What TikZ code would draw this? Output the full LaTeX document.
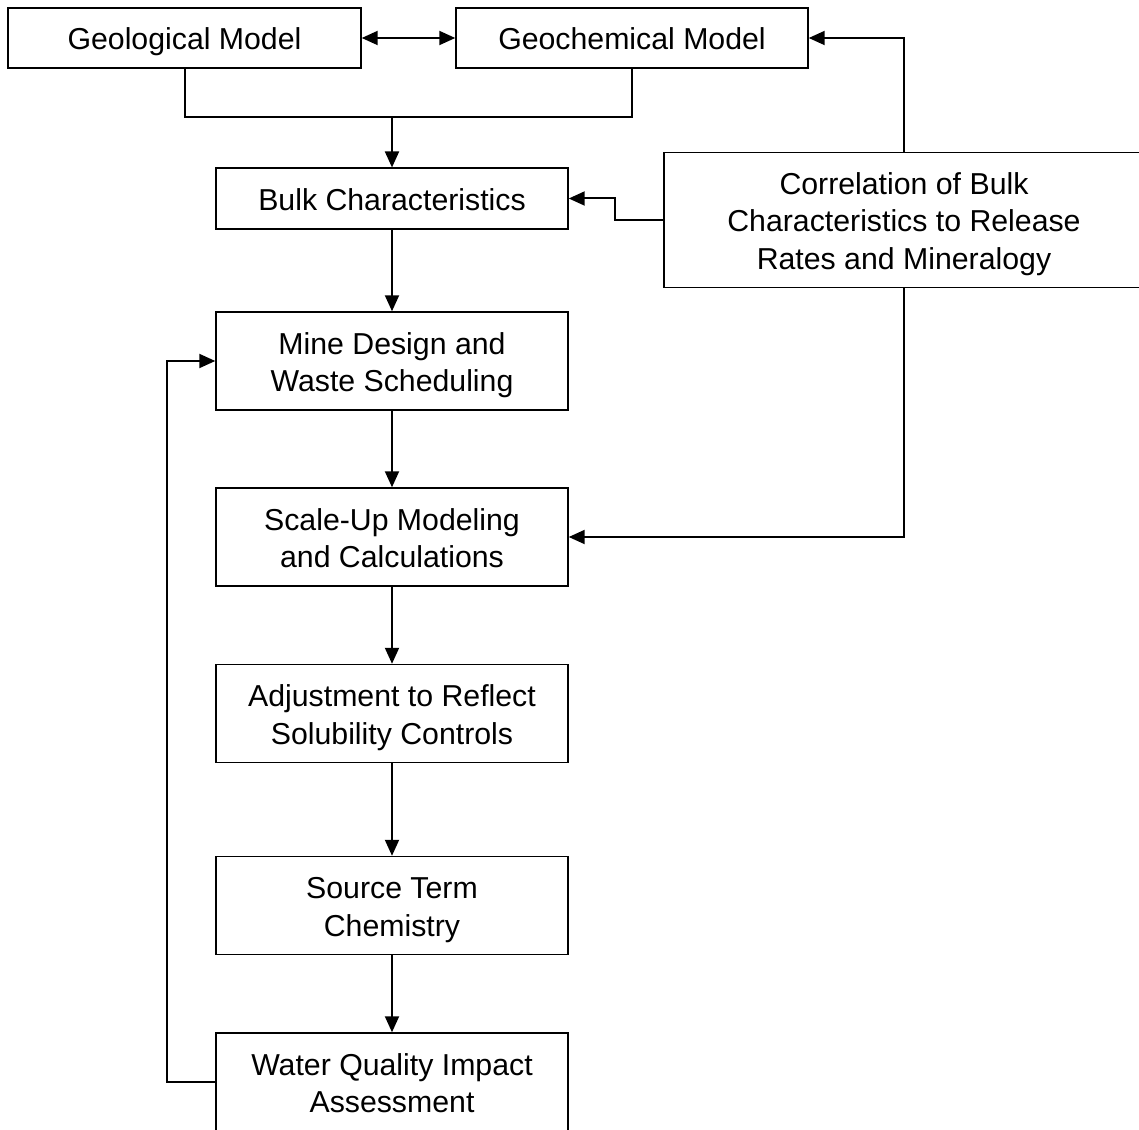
\documentclass[tikz,border=0pt]{standalone}
\usepackage{fontspec}
\setmainfont{Liberation Sans}
\usetikzlibrary{arrows.meta}
\newcommand\mytop{\rule{0pt}{23pt}}
\newcommand\mybot{\rule[-5pt]{0pt}{5pt}}
\begin{document}
\begin{tikzpicture}[x=0.75pt,y=-0.75pt,
  box/.style={draw, line width=1.1pt, inner sep=0pt, align=center, minimum width=264pt, font=\fontsize{22.7}{28.3}\selectfont},
  short/.style={box, minimum height=45.5pt},
  tall/.style={box, minimum height=73.5pt},
  conn/.style={line width=1.5pt},
  arr/.style={conn, -{Triangle[length=12pt,width=10.5pt]}},
  darr/.style={conn, {Triangle[length=12pt,width=10.5pt]}-{Triangle[length=12pt,width=10.5pt]}},
]
\useasboundingbox (0,0) rectangle (1139,1130);
\fill[white] (0,0) rectangle (1139,1130);
\clip (0,0) rectangle (1139,1130);

\node[short, minimum width=264.75pt, minimum height=45pt] (geo) at (184.5,38) {\mytop Geological Model\mybot};
\node[short, minimum height=45pt] (geoc) at (632,38) {\mytop Geochemical Model\mybot};
\node[short] (bulk) at (392,198.5) {\mytop Bulk Characteristics\mybot};
\node[box, minimum width=360pt, minimum height=101.5pt] (corr) at (904,220) {\mytop Correlation of Bulk\\Characteristics to Release\\Rates and Mineralogy\mybot};
\node[tall] (mine) at (392,361) {\mytop Mine Design and\\Waste Scheduling\mybot};
\node[tall] (scale) at (392,537) {\mytop Scale-Up Modeling\\and Calculations\mybot};
\node[tall] (adj) at (392,713.5) {\mytop Adjustment to Reflect\\Solubility Controls\mybot};
\node[tall] (src) at (392,905.5) {\mytop Source Term\\Chemistry\mybot};
\node[tall] (water) at (392,1082) {\mytop Water Quality Impact\\Assessment\mybot};

\coordinate (j) at (392,117);
\draw[darr] (geo.east) -- (geoc.west);
\draw[conn] (geo.south) |- (j) -| (geoc.south);
\draw[arr] (j) -- (bulk.north);
\draw[arr] (corr.west) -- ++(-48,0) |- (bulk.east);
\draw[arr] (corr.north) |- (geoc.east);
\draw[arr] (corr.south) |- (scale.east);
\draw[arr] (bulk.south) -- (mine.north);
\draw[arr] (mine.south) -- (scale.north);
\draw[arr] (scale.south) -- (adj.north);
\draw[arr] (adj.south) -- (src.north);
\draw[arr] (src.south) -- (water.north);
\draw[arr] (water.west) -- ++(-48,0) |- (mine.west);
\end{tikzpicture}
\end{document}
